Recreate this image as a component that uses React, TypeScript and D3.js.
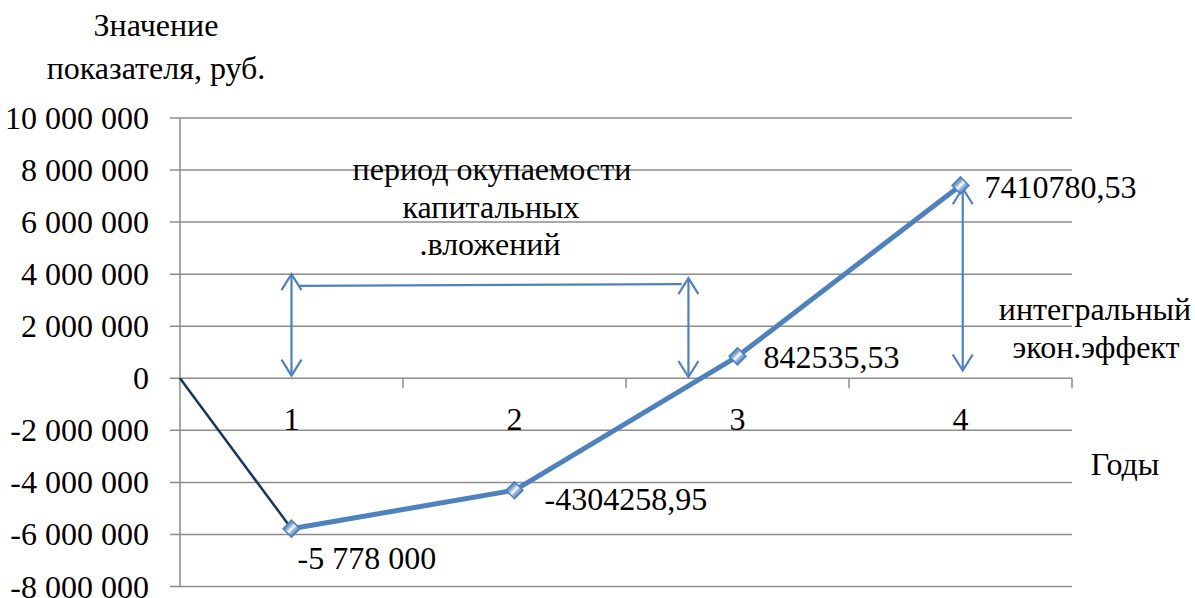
import React from "react";
import * as d3 from "d3";

const years = [1, 2, 3, 4];
const values = [-5778000, -4304258.95, 842535.53, 7410780.53];
const valueLabels = ["-5 778 000", "-4304258,95", "842535,53", "7410780,53"];
const startPoint = { x: 0.5, v: 0 };
const yTicks = [10000000, 8000000, 6000000, 4000000, 2000000, 0, -2000000, -4000000, -6000000, -8000000];
const xBoundaries = [1.5, 2.5, 3.5, 4.5];

// annotation arrows in data coordinates [x1, v1, x2, v2]
const arrows: [number, number, number, number][] = [
  [1, 4000000, 1, 100000],
  [2.78, 3850000, 2.78, 50000],
  [4.01, 7300000, 4.01, 300000],
];
const bracketLine: [number, number, number, number] = [1.03, 3550000, 2.75, 3620000];

const W = 1195;
const H = 598;
const FONT = "'Liberation Serif', 'Times New Roman', serif";
const FS = 32;
const BLUE = "#4F81BD";
const NAVY = "#17375E";
const GRID = "#8C8C8C";

const fmt = (v: number) => {
  const s = Math.abs(v).toString().replace(/\B(?=(\d{3})+(?!\d))/g, " ");
  return (v < 0 ? "-" : "") + s;
};

export default function App() {
  const x = d3.scaleLinear().domain([0.5, 4.5]).range([180, 1072]);
  const y = d3.scaleLinear().domain([-8000000, 10000000]).range([586.5, 118]);

  const line = d3
    .line<[number, number]>()
    .x((d) => x(d[0]))
    .y((d) => y(d[1]));

  const seriesPts: [number, number][] = years.map((yr, i) => [yr, values[i]]);
  const startPts: [number, number][] = [
    [startPoint.x, startPoint.v],
    [years[0], values[0]],
  ];

  const arrowHead = (tx: number, ty: number, dir: number) => {
    const dx = 10;
    const dy = 16;
    return `M${tx - dx},${ty - dir * dy}L${tx},${ty}L${tx + dx},${ty - dir * dy}`;
  };

  const labelOffsets = [
    { dx: 6, dy: 40 },
    { dx: 30, dy: 20 },
    { dx: 26, dy: 12 },
    { dx: 24, dy: 13 },
  ];

  return (
    <svg width={W} height={H} style={{ display: "block", position: "absolute", left: 0, top: 0 }} fontFamily={FONT}>
      <defs>
        <linearGradient id="mk" x1="0" y1="0" x2="1" y2="0">
          <stop offset="0" stopColor={BLUE} />
          <stop offset="0.3" stopColor="#9db8dc" />
          <stop offset="0.5" stopColor="#ffffff" />
          <stop offset="0.7" stopColor="#9db8dc" />
          <stop offset="1" stopColor={BLUE} />
        </linearGradient>
      </defs>
      <rect width={W} height={H} fill="#fff" />

      {/* y axis title */}
      <text x={156} y={36} fontSize={FS} textAnchor="middle" fill="#000">Значение</text>
      <text x={156} y={79} fontSize={FS} textAnchor="middle" fill="#000">показателя, руб.</text>

      {/* gridlines + y ticks */}
      {yTicks.map((t) => (
        <g key={t}>
          <line x1={170} x2={x(4.5)} y1={y(t)} y2={y(t)} stroke={GRID} strokeWidth={1.5} />
          <text x={149} y={y(t) + 11} fontSize={FS} textAnchor="end" fill="#000">
            {fmt(t)}
          </text>
        </g>
      ))}
      {/* y axis line */}
      <line x1={x(0.5)} x2={x(0.5)} y1={y(10000000)} y2={y(-8000000)} stroke={GRID} strokeWidth={1.5} />
      {/* x axis ticks */}
      {xBoundaries.map((b) => (
        <line key={b} x1={x(b)} x2={x(b)} y1={y(0)} y2={y(0) + 10} stroke={GRID} strokeWidth={1.5} />
      ))}
      {years.map((yr) => (
        <text key={yr} x={x(yr)} y={y(0) + 52} fontSize={FS} textAnchor="middle" fill="#000">
          {yr}
        </text>
      ))}
      <text x={1125} y={475} fontSize={FS} textAnchor="middle" fill="#000">Годы</text>

      {/* annotation arrows */}
      {arrows.map(([x1, v1, x2, v2], i) => (
        <g key={i} stroke={BLUE} strokeWidth={2.2} fill="none">
          <line x1={x(x1)} y1={y(v1)} x2={x(x2)} y2={y(v2)} />
          <path d={arrowHead(x(x1), y(v1), -1)} />
          <path d={arrowHead(x(x2), y(v2), 1)} />
        </g>
      ))}
      <line
        x1={x(bracketLine[0])}
        y1={y(bracketLine[1])}
        x2={x(bracketLine[2])}
        y2={y(bracketLine[3])}
        stroke={BLUE}
        strokeWidth={2.2}
      />

      {/* annotation texts */}
      <text x={492} y={180} fontSize={FS} textAnchor="middle" fill="#000">период окупаемости</text>
      <text x={491} y={218} fontSize={FS} textAnchor="middle" fill="#000">капитальных</text>
      <text x={490} y={255} fontSize={FS} textAnchor="middle" fill="#000">.вложений</text>
      <text x={1095} y={320} fontSize={FS} textAnchor="middle" fill="#000">интегральный</text>
      <text x={1096} y={358} fontSize={FS} textAnchor="middle" fill="#000">экон.эффект</text>

      {/* start segment */}
      <path d={line(startPts) || ""} fill="none" stroke={NAVY} strokeWidth={2.5} />
      {/* series */}
      <path d={line(seriesPts) || ""} fill="none" stroke={BLUE} strokeWidth={5} strokeLinejoin="round" />
      {seriesPts.map(([xx, v], i) => (
        <rect
          key={i}
          x={x(xx) - 6}
          y={y(v) - 6}
          width={12}
          height={12}
          fill="url(#mk)"
          stroke={BLUE}
          strokeWidth={1.5}
          transform={`rotate(45 ${x(xx)} ${y(v)})`}
        />
      ))}
      {seriesPts.map(([xx, v], i) => (
        <text key={"l" + i} x={x(xx) + labelOffsets[i].dx} y={y(v) + labelOffsets[i].dy} fontSize={FS} fill="#000">
          {valueLabels[i]}
        </text>
      ))}
    </svg>
  );
}
